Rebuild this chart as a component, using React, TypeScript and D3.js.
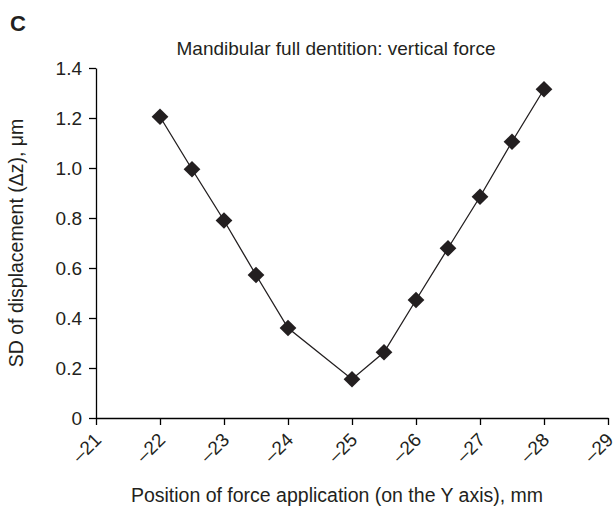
import React, { useEffect, useRef } from 'react';
import * as d3 from 'd3';

// positions along Y axis (mm) and SD of displacement (um)
const positions = [-22, -22.5, -23, -23.5, -24, -25, -25.5, -26, -26.5, -27, -27.5, -28];
const sdValues = [1.205, 0.995, 0.79, 0.572, 0.36, 0.155, 0.263, 0.472, 0.679, 0.885, 1.105, 1.315];
const xTicks = [-21, -22, -23, -24, -25, -26, -27, -28, -29];
const yTicks = [0, 0.2, 0.4, 0.6, 0.8, 1.0, 1.2, 1.4];

const chartTitle = 'Mandibular full dentition: vertical force';
const xTitle = 'Position of force application (on the Y axis), mm';
const yTitle = 'SD of displacement (\u0394z), \u03bcm';

const W = 616, H = 506;
const font = '"Liberation Sans", Arial, sans-serif';

const App = () => {
  const ref = useRef<SVGSVGElement>(null);

  useEffect(() => {
    const svg = d3.select(ref.current);
    svg.selectAll('*').remove();

    const x = d3.scaleLinear().domain([-21, -29]).range([96, 608]);
    const y = d3.scaleLinear().domain([0, 1.4]).range([418, 68]);

    const fmtX = (d: number) => '\u2013' + Math.abs(d);
    const fmtY = (d: number) => (d === 0 ? '0' : d.toFixed(1));

    // y axis
    const gy = svg.append('g').attr('transform', 'translate(96,0)')
      .call(d3.axisLeft(y).tickValues(yTicks).tickSize(7).tickSizeOuter(0).tickPadding(7).tickFormat(fmtY as any));
    gy.select('.domain').attr('stroke', '#000').attr('stroke-width', 1.3);
    gy.selectAll('line').attr('stroke', '#000').attr('stroke-width', 1.3);
    gy.selectAll('text').attr('font-family', font).attr('font-size', 19).attr('fill', '#231f20');

    // x axis
    const gx = svg.append('g').attr('transform', 'translate(0,418)')
      .call(d3.axisBottom(x).tickValues(xTicks).tickSize(7).tickSizeOuter(0).tickFormat(fmtX as any));
    gx.select('.domain').attr('stroke', '#000').attr('stroke-width', 1.3);
    gx.selectAll('line').attr('stroke', '#000').attr('stroke-width', 1.3);
    gx.selectAll('text')
      .attr('font-family', font).attr('font-size', 19).attr('fill', '#231f20')
      .attr('text-anchor', 'end').attr('x', 0).attr('y', 0).attr('dy', 0)
      .attr('transform', 'translate(6,23) rotate(-45)');

    // line
    const pts = positions.map((p, i) => [p, sdValues[i]] as [number, number]);
    const line = d3.line<[number, number]>().x(d => x(d[0])).y(d => y(d[1]));
    svg.append('path').datum(pts)
      .attr('d', line).attr('fill', 'none').attr('stroke', '#231f20').attr('stroke-width', 1.3);

    // diamond markers
    const sym = d3.symbol().type(d3.symbolSquare).size(140);
    svg.selectAll('.dot').data(pts).enter().append('path')
      .attr('class', 'dot')
      .attr('d', sym as any)
      .attr('transform', d => 'translate(' + x(d[0]) + ',' + y(d[1]) + ') rotate(45)')
      .attr('fill', '#231f20');

    // texts
    svg.append('text').attr('x', 10).attr('y', 31).text('C')
      .attr('font-family', font).attr('font-size', 22).attr('font-weight', 'bold').attr('fill', '#231f20');
    svg.append('text').attr('x', 336).attr('y', 55).text(chartTitle)
      .attr('text-anchor', 'middle').attr('font-family', font).attr('font-size', 19).attr('fill', '#231f20');
    svg.append('text').attr('x', 337).attr('y', 502).text(xTitle)
      .attr('text-anchor', 'middle').attr('font-family', font).attr('font-size', 19.5).attr('fill', '#231f20');
    svg.append('text').attr('transform', 'translate(23,243) rotate(-90)').text(yTitle)
      .attr('text-anchor', 'middle').attr('font-family', font).attr('font-size', 19.5).attr('fill', '#231f20');
  }, []);

  return (
    <svg ref={ref} width={W} height={H} style={{ position: 'absolute', left: 0, top: 0, background: '#fff' }} />
  );
};

export default App;
